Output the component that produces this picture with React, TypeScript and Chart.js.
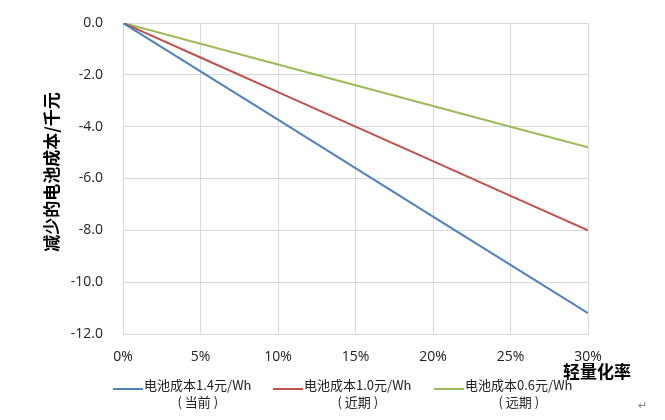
import React, { useEffect, useRef } from "react";
import { Chart, registerables } from "chart.js";

Chart.register(...registerables);

const xValues = [0, 5, 10, 15, 20, 25, 30];
const seriesNames = ["电池成本1.4元/Wh", "电池成本1.0元/Wh", "电池成本0.6元/Wh"];
const seriesNotes = ["( 当前 )", "( 近期 )", "( 远期 )"];
const blueValues = [0, -1.87, -3.73, -5.6, -7.47, -9.33, -11.2];
const redValues = [0, -1.33, -2.67, -4.0, -5.33, -6.67, -8.0];
const greenValues = [0, -0.8, -1.6, -2.4, -3.2, -4.0, -4.8];
const colors = ["#4F81BD", "#C0504D", "#9BBB59"];
const yTitle = "减少的电池成本/千元";
const xTitle = "轻量化率";

const CJK = '"Noto Sans CJK SC", "Noto Sans", sans-serif';

export default function App() {
  const ref = useRef<HTMLCanvasElement>(null);
  useEffect(() => {
    document.body.style.margin = "0";
    const all = [blueValues, redValues, greenValues];
    const textPlugin = {
      id: "texts",
      afterDraw(chart: any) {
        const ctx = chart.ctx;
        ctx.save();
        ctx.fillStyle = "#000";
        ctx.font = `bold 17px ${CJK}`;
        ctx.textAlign = "center";
        ctx.textBaseline = "middle";
        ctx.translate(52, 172);
        ctx.rotate(-Math.PI / 2);
        ctx.fillText(yTitle, 0, 0);
        ctx.restore();
        ctx.save();
        ctx.fillStyle = "#000";
        ctx.font = `bold 17px ${CJK}`;
        ctx.textAlign = "center";
        ctx.textBaseline = "middle";
        ctx.fillText(xTitle, 597, 372);
        const lineX = [113, 273, 434];
        ctx.font = `13px ${CJK}`;
        for (let i = 0; i < 3; i++) {
          ctx.strokeStyle = colors[i];
          ctx.lineWidth = 2;
          ctx.beginPath();
          ctx.moveTo(lineX[i], 389);
          ctx.lineTo(lineX[i] + 30, 389);
          ctx.stroke();
          ctx.fillStyle = "#222";
          ctx.textAlign = "left";
          const tx = lineX[i] + 31;
          ctx.fillText(seriesNames[i], tx, 385);
          const w = ctx.measureText(seriesNames[i]).width;
          ctx.textAlign = "center";
          ctx.fillText(seriesNotes[i], tx + w / 2, 402);
        }
        ctx.fillStyle = "#888";
        ctx.font = `11px ${CJK}`;
        ctx.textAlign = "center";
        ctx.fillText("↵", 642, 405);
        ctx.restore();
      },
    };
    const chart = new Chart(ref.current!, {
      type: "line",
      data: {
        datasets: all.map((vals, i) => ({
          label: seriesNames[i],
          data: xValues.map((x, j) => ({ x, y: vals[j] })),
          borderColor: colors[i],
          backgroundColor: colors[i],
          borderWidth: 2,
          pointRadius: 0,
          tension: 0,
        })),
      },
      options: {
        animation: false,
        responsive: false,
        devicePixelRatio: 1,
        layout: { padding: { left: 0, top: 23, right: 77, bottom: 0 } },
        plugins: { legend: { display: false }, tooltip: { enabled: false } },
        scales: {
          x: {
            type: "linear",
            min: 0,
            max: 30,
            grid: { color: "#D9D9D9", drawTicks: false },
            border: { color: "#D9D9D9" },
            ticks: {
              stepSize: 5,
              padding: 15,
              color: "#222",
              font: { size: 14, family: '"Open Sans", sans-serif' },
              callback: (v: any) => v + "%",
            },
            afterFit: (s: any) => {
              s.height = 86;
              s.paddingLeft = 0;
              s.paddingRight = 0;
            },
          },
          y: {
            min: -12,
            max: 0,
            grid: { color: "#D9D9D9", drawTicks: false },
            border: { color: "#D9D9D9" },
            ticks: {
              stepSize: 2,
              padding: 20,
              color: "#222",
              font: { size: 14, family: '"Open Sans", sans-serif' },
              callback: (v: any) => Number(v).toFixed(1),
            },
            afterFit: (s: any) => {
              s.width = 123;
              s.paddingTop = 0;
              s.paddingBottom = 0;
            },
          },
        },
      },
      plugins: [textPlugin],
    });
    return () => chart.destroy();
  }, []);
  return <canvas ref={ref} width={665} height={420} style={{ display: "block" }} />;
}
